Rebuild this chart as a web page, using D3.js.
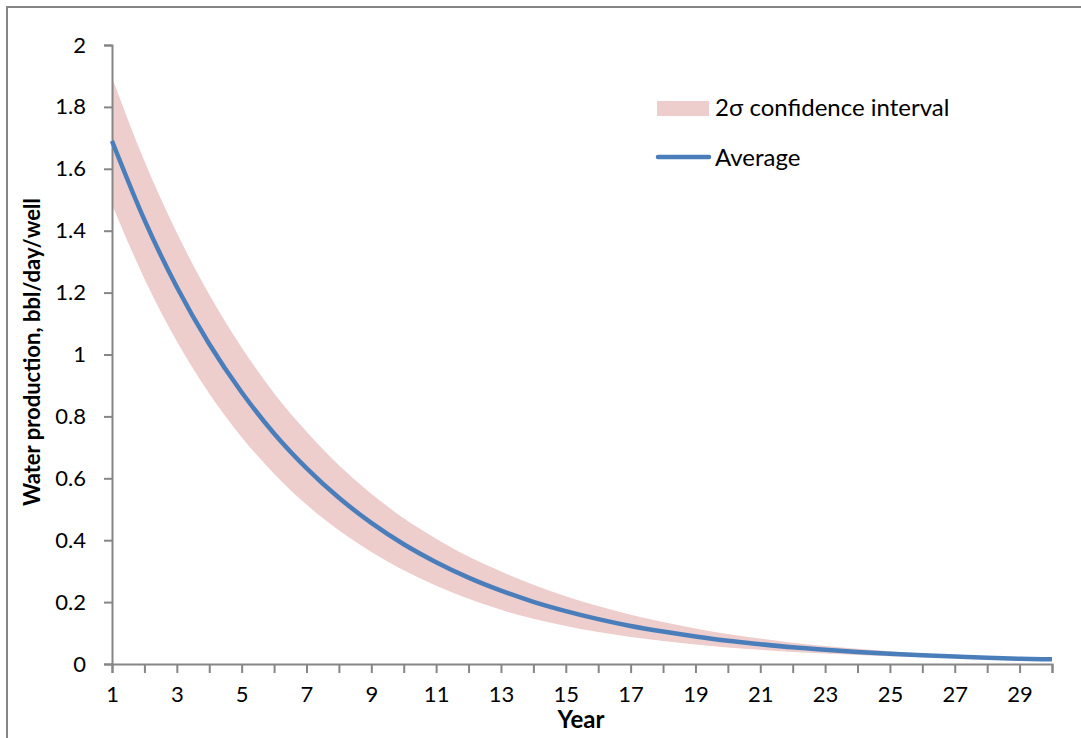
<!DOCTYPE html>
<html>
<head>
<meta charset="utf-8">
<script src="https://cdn.jsdelivr.net/npm/d3@7"></script>
<style>
  html, body { margin: 0; padding: 0; background: #fff; }
  svg { display: block; }
  text { font-family: Lato, "Open Sans", sans-serif; fill: #000; }
</style>
</head>
<body>
<svg id="chart" width="1081" height="738"></svg>
<script>
// Years on the x axis
const years = [1,2,3,4,5,6,7,8,9,10,11,12,13,14,15,16,17,18,19,20,21,22,23,24,25,26,27,28,29,30];

// Average water production per well (bbl/day/well)
const average = [1.690,1.435,1.218,1.034,0.878,0.745,0.633,0.537,0.456,0.387,
                 0.329,0.279,0.237,0.201,0.171,0.145,0.123,0.105,0.089,0.075,
                 0.064,0.054,0.046,0.039,0.033,0.028,0.024,0.020,0.017,0.015];

// Upper and lower edges of the 2σ confidence interval
const upper = [1.895,1.625,1.393,1.194,1.023,0.875,0.751,0.642,0.550,0.471,
               0.405,0.347,0.299,0.256,0.219,0.187,0.159,0.136,0.115,0.097,
               0.082,0.069,0.058,0.049,0.041,0.034,0.029,0.024,0.020,0.017];
const lower = [1.485,1.245,1.043,0.874,0.733,0.615,0.515,0.432,0.362,0.303,
               0.253,0.211,0.175,0.146,0.123,0.103,0.087,0.074,0.063,0.053,
               0.046,0.039,0.034,0.029,0.025,0.022,0.019,0.016,0.014,0.013];

const yTicks = [0,0.2,0.4,0.6,0.8,1,1.2,1.4,1.6,1.8,2];
const xLabelYears = [1,3,5,7,9,11,13,15,17,19,21,23,25,27,29];

const axisColor = "#868686";
const bandColor = "#eecdcd";
const lineColor = "#4a7ebb";

const svg = d3.select("#chart");

// outer chart frame
svg.append("rect")
  .attr("x", 7).attr("y", 7)
  .attr("width", 1100).attr("height", 760)
  .attr("fill", "none").attr("stroke", axisColor).attr("stroke-width", 2);

const x = d3.scaleLinear().domain([1, 30]).range([112, 1052]);
const y = d3.scaleLinear().domain([0, 2]).range([664, 45]);

const rows = years.map((yr, i) => ({ year: yr, avg: average[i], hi: upper[i], lo: lower[i] }));

// confidence band
svg.append("path")
  .datum(rows)
  .attr("fill", bandColor)
  .attr("d", d3.area()
    .curve(d3.curveMonotoneX)
    .x(d => x(d.year))
    .y0(d => y(d.lo))
    .y1(d => y(d.hi)));

// y axis
const yAxis = svg.append("g")
  .attr("transform", `translate(${x(1)},0)`)
  .call(d3.axisLeft(y).tickValues(yTicks).tickSize(8).tickPadding(18)
    .tickFormat(d => d3.format("~g")(d)));
yAxis.select(".domain").attr("stroke", axisColor).attr("stroke-width", 2);
yAxis.selectAll(".tick line").attr("stroke", axisColor).attr("stroke-width", 2);
yAxis.selectAll(".tick text").attr("font-size", 22).attr("font-family", "Lato").attr("fill", "#000");

// x axis
const xAxis = svg.append("g")
  .attr("transform", `translate(0,${y(0)})`)
  .call(d3.axisBottom(x).tickValues(years).tickSize(9).tickPadding(13)
    .tickFormat(d => xLabelYears.includes(d) ? d : ""));
xAxis.select(".domain").attr("stroke", axisColor).attr("stroke-width", 2);
xAxis.selectAll(".tick line").attr("stroke", axisColor).attr("stroke-width", 2);
xAxis.selectAll(".tick text").attr("font-size", 22).attr("font-family", "Lato").attr("fill", "#000");

// average line
svg.append("path")
  .datum(rows)
  .attr("fill", "none")
  .attr("stroke", lineColor)
  .attr("stroke-width", 4.5)
  .attr("stroke-linejoin", "round")
  .attr("d", d3.line()
    .curve(d3.curveMonotoneX)
    .x(d => x(d.year))
    .y(d => y(d.avg)));

// axis titles
svg.append("text")
  .attr("transform", "translate(40,352) rotate(-90)")
  .attr("text-anchor", "middle")
  .attr("font-size", 22).attr("font-weight", "bold")
  .text("Water production, bbl/day/well");

svg.append("text")
  .attr("x", 581).attr("y", 728)
  .attr("text-anchor", "middle")
  .attr("font-size", 24).attr("font-weight", "bold")
  .text("Year");

// legend
const legend = svg.append("g");
legend.append("rect")
  .attr("x", 657).attr("y", 101).attr("width", 52).attr("height", 15)
  .attr("fill", bandColor);
legend.append("text")
  .attr("x", 715).attr("y", 108).attr("dy", "0.35em")
  .attr("font-size", 24)
  .text("2σ confidence interval");
legend.append("line")
  .attr("x1", 658).attr("x2", 709).attr("y1", 157).attr("y2", 157)
  .attr("stroke", lineColor).attr("stroke-width", 4.5).attr("stroke-linecap", "round");
legend.append("text")
  .attr("x", 715).attr("y", 158).attr("dy", "0.35em")
  .attr("font-size", 24)
  .text("Average");
</script>
</body>
</html>
